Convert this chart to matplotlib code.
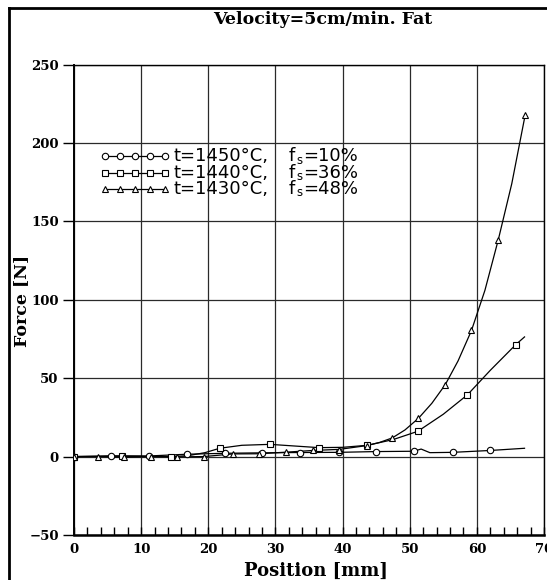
import matplotlib
matplotlib.use("Agg")
import matplotlib.pyplot as plt
from matplotlib.lines import Line2D
from matplotlib.ticker import MultipleLocator

# ---- data -------------------------------------------------------------
# t=1450°C, fs=10%  (circles)
circ_mx = [0, 5.5, 11.2, 16.8, 22.5, 28.0, 33.7, 39.4, 45.0, 50.6, 56.4, 62.0]
circ_my = [0, 0.6, 0.4, 1.5, 2.1, 2.4, 2.6, 2.7, 3.2, 3.4, 2.7, 3.9]
circ_lx = [0, 5.5, 11.2, 16.8, 22.5, 28.0, 33.7, 39.4, 45.0, 50.6, 51.7, 53.0, 56.4, 62.0, 67.1]
circ_ly = [0, 0.5, 0.4, 1.5, 2.1, 2.4, 2.6, 2.7, 3.2, 3.4, 4.8, 2.5, 2.7, 3.9, 5.3]

# t=1440°C, fs=36%  (squares)
sq_mx = [0, 7.1, 14.5, 21.7, 29.2, 36.5, 43.7, 51.2, 58.6, 65.8]
sq_my = [0, 0.2, 0.0, 5.3, 7.8, 5.7, 7.2, 16.1, 39.4, 71.4]
sq_lx = [0, 7.1, 14.5, 17.0, 19.5, 21.7, 25.0, 29.2, 33.0, 36.5, 40.0, 43.7,
         47.5, 51.2, 55.0, 58.6, 62.0, 65.8, 67.1]
sq_ly = [0, 0.2, 0.0, 0.6, 2.5, 5.3, 7.2, 7.8, 6.7, 5.7, 5.9, 7.2,
         10.8, 16.1, 27.0, 39.4, 55.0, 71.4, 76.3]

# t=1430°C, fs=48%  (triangles)
tri_mx = [0, 3.6, 7.5, 11.5, 15.4, 19.3, 23.7, 27.6, 31.5, 35.6, 39.5, 43.6,
          47.4, 51.3, 55.3, 59.2, 63.2, 67.2]
tri_my = [0, 0.0, -0.4, 0.0, -0.2, 0.0, 1.7, 1.8, 2.8, 3.9, 4.5, 7.0,
          11.9, 24.4, 45.9, 80.4, 138.4, 217.9]
tri_lx = [0, 3.6, 7.5, 11.5, 15.4, 19.3, 23.7, 27.6, 31.5, 35.6, 39.5, 43.6,
          45.5, 47.4, 49.3, 51.3, 53.3, 55.3, 57.2, 59.2, 61.2, 63.2, 65.2, 67.2]
tri_ly = [0, 0.0, -0.4, 0.0, -0.2, 0.0, 1.7, 1.8, 2.8, 3.9, 4.6, 7.0,
          9.0, 11.9, 17.0, 24.4, 34.0, 45.9, 61.0, 80.4, 106.0, 138.4, 174.0, 217.9]

labels_t = ["t=1450°C,", "t=1440°C,", "t=1430°C,"]
labels_fs = ["=10%", "=36%", "=48%"]
markers = ["o", "s", "^"]

x_ticks = list(range(0, 71, 10))
y_ticks = list(range(-50, 251, 50))

title = "Velocity=5cm/min. Fat"
xlabel = "Position [mm]"
ylabel = "Force [N]"

# ---- figure -----------------------------------------------------------
W, H = 547, 580
fig = plt.figure(figsize=(W / 100, H / 100), dpi=100)
ax = fig.add_axes([74 / W, (H - 535) / H, 470 / W, 470.5 / H])

serif = "DejaVu Serif"
sans = "DejaVu Sans"

ax.set_xlim(0, 70)
ax.set_ylim(-50, 250)
ax.set_xticks(x_ticks)
ax.set_yticks(y_ticks)
ax.xaxis.set_minor_locator(MultipleLocator(2))
ax.grid(True, which="major", color="#2a2a2a", lw=0.9)
ax.set_axisbelow(True)

ax.tick_params(axis="x", which="both", direction="in", length=6, width=1,
               pad=6, labelsize=9.5)
ax.tick_params(axis="y", which="both", direction="out", length=8, width=1,
               pad=3, labelsize=9.5)
for lab in ax.get_xticklabels() + ax.get_yticklabels():
    lab.set_fontfamily(serif)
    lab.set_fontweight("bold")

ax.spines["left"].set_linewidth(1.4)
ax.spines["bottom"].set_linewidth(1.8)
ax.spines["top"].set_linewidth(1.0)
ax.spines["right"].set_linewidth(1.0)

mk = dict(markersize=4.6, markerfacecolor="white", markeredgecolor="black",
          markeredgewidth=0.8, linestyle="none")
lw = 0.9

series = [
    (circ_lx, circ_ly, circ_mx, circ_my),
    (sq_lx, sq_ly, sq_mx, sq_my),
    (tri_lx, tri_ly, tri_mx, tri_my),
]
for (lx, ly, mx, my), m in zip(series, markers):
    ax.plot(lx, ly, color="black", lw=lw, zorder=3)
    ax.plot(mx, my, marker=m, zorder=4, **mk)

# legend entries drawn as five-marker keys with text
row_py = [156, 172.5, 189]
key_px = [105, 120, 135, 150, 165]
for py, m, lt, lf in zip(row_py, markers, labels_t, labels_fs):
    yy = (535 - py) / 470.5
    xs = [(p - 74) / 470 for p in key_px]
    ax.plot(xs, [yy] * len(xs), color="black", lw=lw, transform=ax.transAxes,
            clip_on=False, zorder=5)
    ax.plot(xs, [yy] * len(xs), marker=m, transform=ax.transAxes,
            clip_on=False, zorder=6, **mk)
    ax.text((174 - 74) / 470, yy, lt, transform=ax.transAxes, ha="left",
            va="center", fontsize=13, family=sans, zorder=6)
    fx = (289 - 74) / 470
    ax.text(fx, yy, "f", transform=ax.transAxes, ha="left",
            va="center", fontsize=13, family=sans, zorder=6)
    ax.annotate("s", xy=(fx, yy), xycoords=ax.transAxes,
                xytext=(7, -4), textcoords="offset pixels", ha="left",
                va="center", fontsize=8.5, family=sans, zorder=6)
    ax.annotate(lf, xy=(fx, yy), xycoords=ax.transAxes,
                xytext=(14, 0), textcoords="offset pixels", ha="left",
                va="center", fontsize=13, family=sans, zorder=6)

# title and axis labels
ax.text((323 - 74) / 470, (535 - 20) / 470.5, title, transform=ax.transAxes,
        ha="center", va="center", fontsize=12.5, family=serif, fontweight="bold")
ax.set_xlabel(xlabel, family=serif, fontweight="bold", fontsize=13)
ax.xaxis.set_label_coords((316 - 74) / 470, (535 - 571) / 470.5)
ax.xaxis.label.set_va("center")
ax.set_ylabel(ylabel, family=serif, fontweight="bold", fontsize=12.5)
ax.yaxis.set_label_coords((22 - 74) / 470, (535 - 301) / 470.5)
ax.yaxis.label.set_va("center")

# outer frame along the left and top edges
fig.add_artist(Line2D([8.5 / W, 8.5 / W], [0, 1 - 7.5 / H], color="black",
                      lw=2.0, transform=fig.transFigure))
fig.add_artist(Line2D([8.5 / W, 1], [1 - 7.5 / H, 1 - 7.5 / H], color="black",
                      lw=2.0, transform=fig.transFigure))

fig.savefig("out.png", dpi=100)
